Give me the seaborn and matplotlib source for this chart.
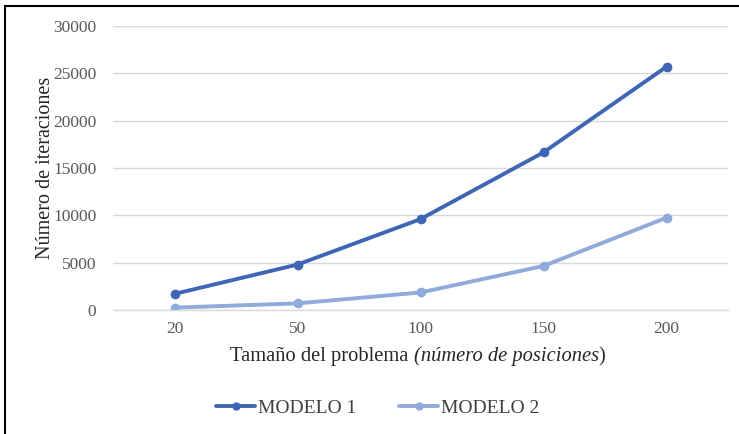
import pandas as pd
import numpy as np
import seaborn as sns
import matplotlib.pyplot as plt
from matplotlib.lines import Line2D

# data
tamanos = ["20", "50", "100", "150", "200"]
modelo_1 = [1700, 4800, 9600, 16650, 25700]
modelo_2 = [250, 700, 1850, 4650, 9750]
series_names = ["MODELO 1", "MODELO 2"]
y_ticks = [0, 5000, 10000, 15000, 20000, 25000, 30000]

df = pd.DataFrame({
    "tamano": tamanos * 2,
    "iteraciones": modelo_1 + modelo_2,
    "modelo": [series_names[0]] * len(tamanos) + [series_names[1]] * len(tamanos),
})

sns.set_theme(style="white")
plt.rcParams['font.family'] = ['Liberation Serif', 'DejaVu Serif']

fig = plt.figure(figsize=(7.39, 4.34), dpi=100)
ax = fig.add_axes([113 / 739, 1 - 310 / 434, 615 / 739, 284 / 434])

palette = {"MODELO 1": "#3F66B4", "MODELO 2": "#90AADC"}
sns.lineplot(data=df, x="tamano", y="iteraciones", hue="modelo", palette=palette,
             marker="o", markersize=7, markeredgewidth=0, linewidth=2.8,
             sort=False, ax=ax, legend=False)

ax.set_xlim(-0.5, len(tamanos) - 0.5)
ax.set_ylim(0, 30000)
ax.set_yticks(y_ticks)
ax.set_yticklabels([str(t) for t in y_ticks])
ax.yaxis.grid(True, color="#D9D9D9", linewidth=1)
ax.set_axisbelow(True)
for side in ["left", "right", "top"]:
    ax.spines[side].set_visible(False)
ax.spines["bottom"].set_color("#D9D9D9")
ax.spines["bottom"].set_linewidth(1)
ax.tick_params(axis="both", length=0, labelsize=12.5, colors="#595959", pad=8)
ax.tick_params(axis="y", pad=12)

ax.set_ylabel("Número de iteraciones", fontsize=14.5, color="#262626")
ax.yaxis.set_label_coords(-0.095, 0.5)
ax.set_xlabel("")

# x label with italic part
fs = 14.8
t1 = fig.text(230 / 739, 1 - 357 / 434, "Tamaño del problema ", fontsize=fs,
              color="#262626", va="center", ha="left")
ax.annotate("(número de posiciones", xycoords=t1, xy=(1, 0), va="bottom",
            fontsize=fs, color="#262626", style="italic")
fig.canvas.draw()
t2 = ax.texts[-1]
ax.annotate(")", xycoords=t2, xy=(1, 0), va="bottom", fontsize=fs, color="#262626")

handles = [Line2D([0], [0], color=palette[n], marker="o", markersize=6,
                  markeredgewidth=0, linewidth=2.8) for n in series_names]
fig.legend(handles, series_names, loc="center", bbox_to_anchor=(378 / 739, 1 - 408 / 434),
           ncol=2, frameon=False, fontsize=14, handlelength=2.0, columnspacing=2.2,
           handletextpad=0.15, labelcolor="#404040")

# chart frame (left and top edges only visible)
fig.add_artist(Line2D([5 / 739, 5 / 739], [0, 1 - 6 / 434], color="black", linewidth=1.5))
fig.add_artist(Line2D([5 / 739, 1], [1 - 6 / 434, 1 - 6 / 434], color="black", linewidth=1.5))

fig.savefig("out.png", dpi=100)
